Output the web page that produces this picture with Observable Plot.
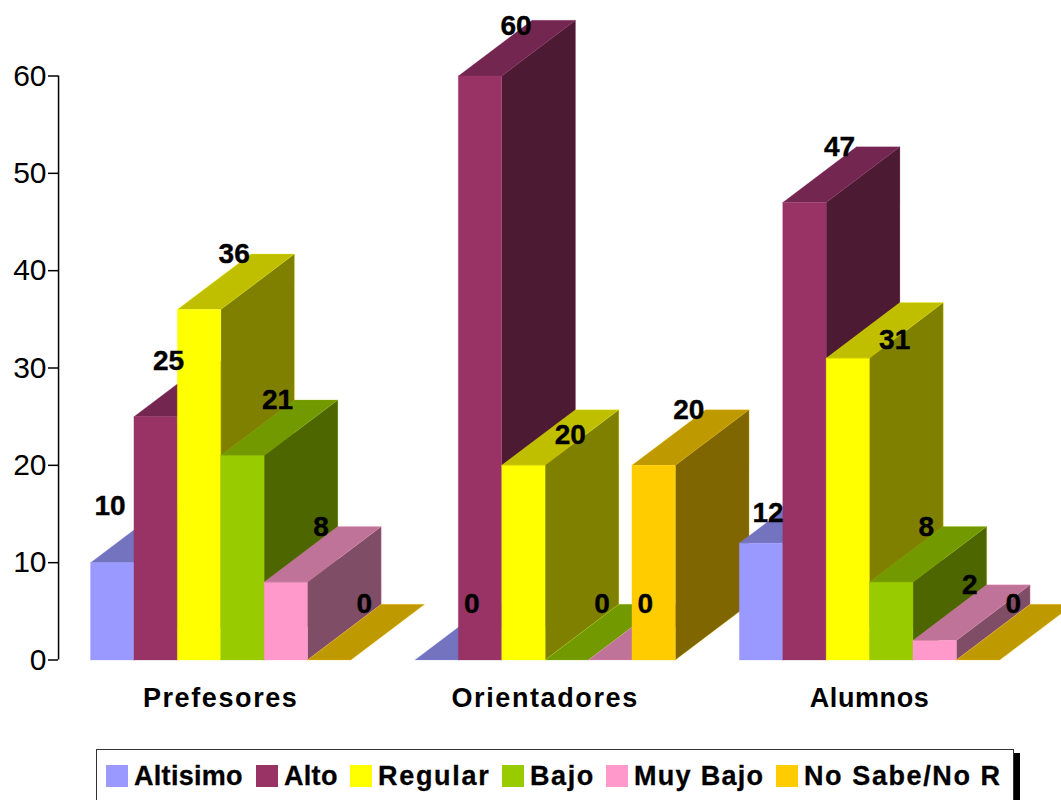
<!DOCTYPE html>
<html>
<head>
<meta charset="utf-8">
<script src="https://cdn.jsdelivr.net/npm/d3@7"></script>
<script src="https://cdn.jsdelivr.net/npm/@observablehq/plot@0.6"></script>
<style>
  html, body { margin: 0; padding: 0; background: #fff; overflow: hidden; width: 1061px; height: 800px; }
  body, svg, #legend { font-family: "Liberation Sans", Arial, sans-serif; }
  svg { display: block; }
  g[aria-label="x-axis tick label"] text { letter-spacing: 1.6px; }
  g[aria-label="x-axis tick label"] text:nth-of-type(3) { letter-spacing: 0.6px; }
  #legend { position: relative; width: 1061px; height: 55px; overflow: hidden; color: #000; }
  #legend .box { position: absolute; left: 96px; top: 4px; width: 916px; height: 70px; border: 1.5px solid #333; background: #fff; box-shadow: 6px 4px 0 #000; }
  #legend .sw { position: absolute; top: 20px; width: 22px; height: 22px; }
  #legend .tx { position: absolute; top: 14px; font-size: 27px; line-height: 34px; font-weight: bold; white-space: nowrap; -webkit-text-stroke: 0.3px #000; }
</style>
</head>
<body>
<div id="chart"></div>
<div id="legend"><div class="box"></div></div>
<script>
const groups = ["Prefesores", "Orientadores", "Alumnos"];
const seriesNames = ["Altisimo", "Alto", "Regular", "Bajo", "Muy Bajo", "No Sabe/No R"];
const altisimo = [10, 0, 12];
const alto = [25, 60, 47];
const regular = [36, 20, 31];
const bajo = [21, 0, 8];
const muyBajo = [8, 0, 2];
const noSabe = [0, 20, 0];
const seriesValues = [altisimo, alto, regular, bajo, muyBajo, noSabe];
const yTicks = [0, 10, 20, 30, 40, 50, 60];

// Styling and 3D projection (in scale units)
const frontColors = ["#9999FF", "#993366", "#FFFF00", "#99CC00", "#FF99CC", "#FFCC00"];
const topColors   = ["#7373BF", "#732650", "#BFBF00", "#739900", "#BF7399", "#BF9900"];
const sideColors  = ["#4D4D80", "#4D1A33", "#808000", "#4D6600", "#804D66", "#806600"];
const groupStep = 7.475, depthX = 1.7, depthY = 5.72, axisGap = -0.736;
const labelDefault = {lx: 0.81, ly: 5.7};
const labelMoved = {
  "0|0": {lx: -0.05, ly: 5.85},
  "0|1": {lx: 0.3, ly: 5.75},
  "1|1": {lx: 0.83, ly: 5.1},
  "1|2": {lx: 1.08, ly: 3.08},
  "2|0": {lx: 0.16, ly: 3.08},
  "2|2": {lx: 1.08, ly: 1.85}
};

const polys = [];
const labels = [];
groups.forEach((g, gi) => {
  seriesNames.forEach((s, si) => {
    const v = seriesValues[si][gi];
    const x0 = gi * groupStep + si, x1 = x0 + 1;
    const add = (face, color, pts) => {
      const id = `${gi}-${si}-${face}`;
      [...pts, pts[0]].forEach(([x, y]) => polys.push({id, color, edge: frontColors[si], x, y}));
    };
    add("top", topColors[si], [[x0, v], [x1, v], [x1 + depthX, v + depthY], [x0 + depthX, v + depthY]]);
    if (v > 0) {
      add("side", sideColors[si], [[x1, 0], [x1 + depthX, depthY], [x1 + depthX, v + depthY], [x1, v]]);
      add("front", frontColors[si], [[x0, 0], [x1, 0], [x1, v], [x0, v]]);
    }
    const o = labelMoved[`${gi}|${si}`] || labelDefault;
    labels.push({x: x0 + 0.5 + o.lx, y: v + o.ly, text: String(v)});
  });
});

const groupCenters = groups.map((g, i) => i * groupStep + seriesNames.length / 2);

const chart = Plot.plot({
  width: 1061,
  height: 745,
  marginLeft: 58,
  marginRight: 0,
  marginTop: 0,
  marginBottom: 85.5,
  x: {domain: [0, 1], range: [90, 133.4], axis: null},
  y: {domain: [0, 60], range: [659.5, 75.5], axis: null},
  style: {fontFamily: '"Liberation Sans", Arial, sans-serif', background: "#fff", color: "#000"},
  marks: [
    Plot.line(polys, {x: "x", y: "y", z: "id", fill: "color", stroke: "edge", strokeWidth: 0.5, strokeOpacity: 0.5, curve: "linear"}),
    Plot.ruleX([axisGap], {y1: 0, y2: 60, stroke: "#000", strokeWidth: 1.5}),
    Plot.axisY(yTicks, {ticks: yTicks, tickSize: 10, tickPadding: 2, label: null, fontSize: 30, stroke: "#000", strokeWidth: 1.5}),
    Plot.axisX({ticks: groupCenters, tickFormat: (d) => groups[groupCenters.indexOf(d)], tickSize: 0, tickPadding: 28, label: null, fontSize: 27, fontWeight: "bold", anchor: "bottom"}),
    Plot.text(labels, {x: "x", y: "y", text: "text", fontSize: 28, fontWeight: "bold", fill: "#000", stroke: "#000", strokeWidth: 0.4})
  ]
});
document.getElementById("chart").appendChild(chart);

const legendLeft = [106, 256, 350, 502, 606, 776];
const legendSpacing = [0.3, 0.3, 1.7, 1.6, 1.3, 1.6];
const legend = document.getElementById("legend");
seriesNames.forEach((s, i) => {
  const sw = document.createElement("div");
  sw.className = "sw";
  sw.style.left = legendLeft[i] + "px";
  sw.style.background = frontColors[i];
  const tx = document.createElement("div");
  tx.className = "tx";
  tx.style.left = legendLeft[i] + 28 + "px";
  tx.style.letterSpacing = legendSpacing[i] + "px";
  tx.textContent = s;
  legend.append(sw, tx);
});
</script>
</body>
</html>
